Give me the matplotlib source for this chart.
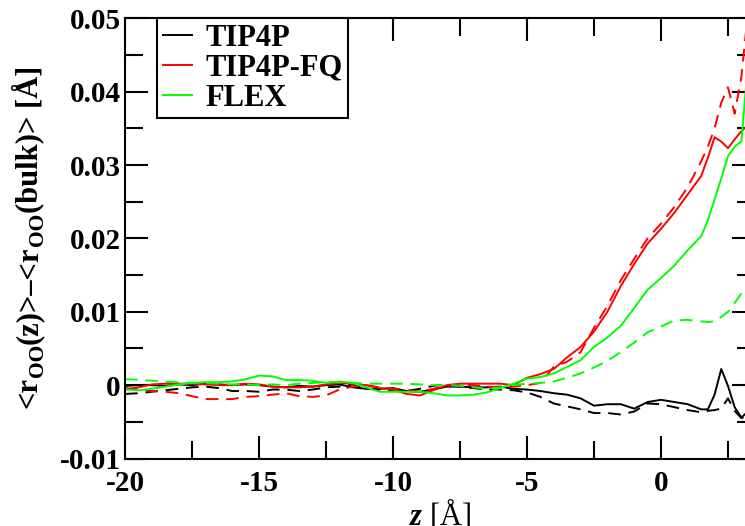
"""<r_OO(z)> - <r_OO(bulk)> profiles across the interface, TIP4P / TIP4P-FQ / FLEX"""
import numpy as np
import matplotlib

matplotlib.use("Agg")
import matplotlib.pyplot as plt
from matplotlib.ticker import MultipleLocator
from matplotlib.transforms import IdentityTransform

# z grid [A]
z = [-20, -19.5, -19, -18.5, -18, -17.5, -17, -16.5, -16, -15.5, -15, -14.5,
     -14, -13.5, -13, -12.5, -12, -11.5, -11, -10.5, -10, -9.5, -9, -8.5, -8,
     -7.5, -7, -6.5, -6, -5.5, -5, -4.5, -4, -3.5, -3, -2.5, -2, -1.5, -1,
     -0.5, 0, 0.5, 1, 1.5, 1.75, 2, 2.25, 2.5, 2.75, 3, 3.25, 3.5]

# values in units of 1e-3 A
tip4p_solid = [-0.1, 0.0, 0.0, -0.1, 0.1, 0.0, 0.2, 0.1, 0.0, 0.1, 0.0, -0.2,
               -0.3, -0.1, -0.2, 0.0, 0.1, -0.3, -0.5, -0.5, -0.4, -0.8, -0.9, -0.6, -0.2,
               -0.2, -0.3, -0.3, -0.2, -0.5, -0.6, -0.8, -1.1, -1.3, -1.8, -2.8, -2.6, -2.6, -3.2,
               -2.3, -2.0, -2.3, -2.6, -3.3, -3.3, -1.3, 2.2, -0.1, -3.0, -4.4, -3.6, -3.8]
tip4p_dashed = [-1.2, -1.1, -0.9, -0.7, -0.5, -0.3, -0.2, -0.4, -0.8, -0.8, -0.9, -0.6,
                -0.6, -0.8, -0.6, -0.3, -0.2, 0.1, -0.5, -0.6, -0.8, -0.8, -0.5, -0.1, 0.1,
                -0.2, -0.4, -0.6, -0.6, -0.7, -1.0, -1.6, -2.5, -2.9, -3.3, -3.8, -3.8, -4.0, -3.6,
                -2.5, -2.6, -3.0, -3.4, -3.7, -3.5, -3.4, -3.2, -1.8, -3.5, -4.5, -4.1, -4.0]
fq_solid = [-0.6, -0.3, 0.1, 0.2, 0.2, 0.2, 0.1, 0.0, 0.0, 0.2, 0.1, -0.2,
            -0.3, -0.3, -0.2, 0.1, 0.3, 0.2, 0.0, -0.4, -0.6, -1.2, -1.4, -0.7, 0.0,
            0.2, 0.2, 0.2, 0.2, 0.0, 1.0, 1.5, 2.2, 3.8, 5.2, 7.3, 10.0, 13.5, 16.5,
            19.3, 21.3, 23.5, 26.0, 28.5, 31.0, 33.8, 33.2, 32.3, 33.5, 34.6, 35.5, 37.0]
fq_dashed = [-0.4, -0.6, -0.8, -0.9, -1.1, -1.5, -1.9, -1.9, -1.9, -1.6, -1.5, -1.3,
             -1.1, -1.5, -1.6, -1.4, -0.6, -0.2, 0.0, -0.3, -0.5, -0.7, -0.9, -0.5, -0.1,
             0.1, 0.0, -0.2, -0.3, -0.2, 0.0, 0.3, 2.5, 3.2, 4.5, 7.8, 10.8, 14.3, 17.2,
             20.0, 22.0, 24.3, 27.0, 30.5, 32.5, 35.0, 38.5, 40.6, 37.0, 42.0, 51.0, 55.0]
flex_solid = [-0.6, -0.7, -0.5, -0.2, 0.1, 0.3, 0.4, 0.4, 0.5, 0.8, 1.3, 1.2,
              0.7, 0.7, 0.6, 0.3, 0.5, 0.3, -0.3, -0.9, -0.9, -0.9, -0.9, -1.1, -1.4,
              -1.4, -1.3, -1.0, -0.4, 0.2, 0.9, 1.1, 1.6, 2.5, 3.4, 5.2, 6.5, 8.1, 10.5,
              13.0, 14.6, 16.3, 18.4, 20.3, 22.5, 25.3, 28.2, 31.2, 32.5, 33.2, 44.0, 46.0]
flex_dashed = [0.8, 0.75, 0.6, 0.45, 0.4, 0.3, 0.3, 0.2, 0.1, 0.1, 0.0, 0.1,
               0.0, 0.2, 0.3, 0.4, 0.4, 0.3, 0.2, 0.2, 0.2, 0.2, 0.1, 0.0, 0.0,
               -0.1, -0.3, -0.5, -0.3, 0.0, 0.2, 0.3, 0.5, 1.0, 1.6, 2.4, 3.3, 4.5, 5.8,
               7.2, 8.0, 8.8, 8.9, 8.7, 8.6, 8.7, 9.3, 10.0, 11.2, 12.5, 13.6, 14.5]

labels = ["TIP4P", "TIP4P-FQ", "FLEX"]
colors = ["black", "#ff0000", "#00ff00"]
x_ticks = [-20, -15, -10, -5, 0]
y_ticks = [-0.01, 0, 0.01, 0.02, 0.03, 0.04, 0.05]
y_tick_labels = ["-0.01", "0", "0.01", "0.02", "0.03", "0.04", "0.05"]
# y label pieces: (text, is_subscript)
ylabel_parts = [("<r", False), ("OO", True), ("(z)>–<r", False), ("OO", True),
                ("(bulk)> [Å]", False)]

plt.rcParams.update({
    "font.family": "Liberation Serif",
    "font.weight": "bold",
    "mathtext.fontset": "custom",
    "mathtext.rm": "Liberation Serif:bold",
    "mathtext.bf": "Liberation Serif:bold",
    "mathtext.it": "Liberation Serif:italic:bold",
    "mathtext.default": "bf",
})

fig = plt.figure(figsize=(7.45, 5.26), dpi=100)
# right spine sits just past the figure edge, as in the cropped original
ax = fig.add_axes([0.1678, 0.1283, 0.8453, 0.8369])

zz = np.array(z)
solids = [tip4p_solid, fq_solid, flex_solid]
dashes = [tip4p_dashed, fq_dashed, flex_dashed]
lw = 1.4
for sol, das, c, lab in zip(solids, dashes, colors, labels):
    ax.plot(zz, np.array(das) * 1e-3, color=c, lw=lw, ls=(0, (6.5, 4)))
    ax.plot(zz, np.array(sol) * 1e-3, color=c, lw=lw, label=lab)

ax.set_xlim(-20, 3.5)
ax.set_ylim(-0.01, 0.05)
ax.set_xticks(x_ticks, [str(t) for t in x_ticks])
ax.set_yticks(y_ticks, y_tick_labels)
ax.xaxis.set_minor_locator(MultipleLocator(2.5))
ax.yaxis.set_minor_locator(MultipleLocator(0.005))
ax.tick_params(which="both", direction="in", top=True, right=True, width=1.5,
               labelsize=21)
ax.tick_params(which="major", length=16.5)
ax.tick_params(which="minor", length=12.7)
ax.tick_params(axis="x", pad=8)
ax.tick_params(axis="y", pad=3)
for sp in ax.spines.values():
    sp.set_linewidth(1.5)

ax.set_xlabel(r"$\mathit{z}$ [Å]", fontsize=22, labelpad=0)

# rotated y label built piece by piece so the OO subscripts drop like the original
fig.canvas.draw()
renderer = fig.canvas.get_renderer()
ypix = 526 - 408
for text, sub in ylabel_parts:
    t = fig.text(37 + (6 if sub else 0), ypix, text, transform=IdentityTransform(),
                 rotation=90, rotation_mode="anchor", ha="left", va="baseline",
                 fontsize=15.5 if sub else 22)
    ypix += t.get_window_extent(renderer).height

leg = ax.legend(loc="upper left", bbox_to_anchor=(0.0508, 1.0), borderaxespad=0,
                fontsize=22, fancybox=False, framealpha=1, edgecolor="black",
                handlelength=0.95, handletextpad=0.45, labelspacing=0.03,
                borderpad=0.18)
leg.get_frame().set_linewidth(1.5)

fig.savefig("out.png", dpi=100)
plt.close(fig)
